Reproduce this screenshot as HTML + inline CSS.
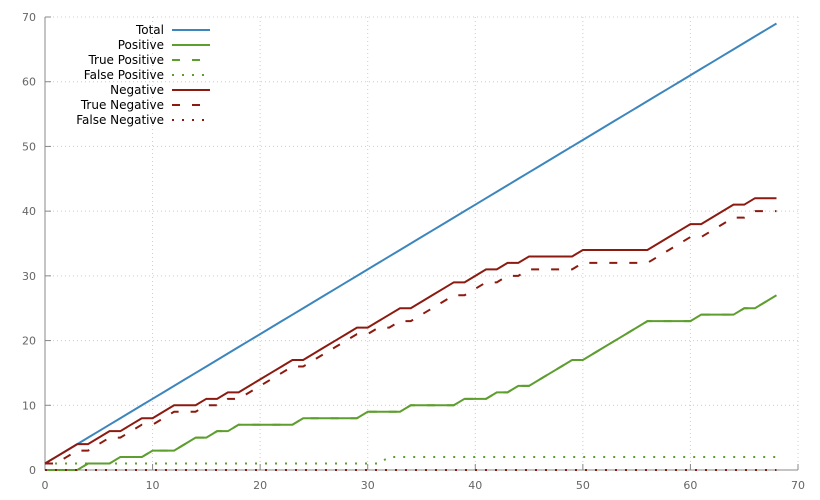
<!DOCTYPE html>
<html><head><meta charset="utf-8"><style>
body{margin:0;background:#fff;}
svg{display:block;font-family:"DejaVu Sans","Liberation Sans",sans-serif;}
</style></head><body>
<svg id="c" width="820" height="500"></svg>
<script>
const xTicks=[0,10,20,30,40,50,60,70];
const yTicks=[0,10,20,30,40,50,60,70];
const total=[1,2,3,4,5,6,7,8,9,10,11,12,13,14,15,16,17,18,19,20,21,22,23,24,25,26,27,28,29,30,31,32,33,34,35,36,37,38,39,40,41,42,43,44,45,46,47,48,49,50,51,52,53,54,55,56,57,58,59,60,61,62,63,64,65,66,67,68,69];
const positive=[0,0,0,0,1,1,1,2,2,2,3,3,3,4,5,5,6,6,7,7,7,7,7,7,8,8,8,8,8,8,9,9,9,9,10,10,10,10,10,11,11,11,12,12,13,13,14,15,16,17,17,18,19,20,21,22,23,23,23,23,23,24,24,24,24,25,25,26,27];
const truePositive=[0,0,0,0,1,1,1,2,2,2,3,3,3,4,5,5,6,6,7,7,7,7,7,7,8,8,8,8,8,8,9,9,9,9,10,10,10,10,10,11,11,11,12,12,13,13,14,15,16,17,17,18,19,20,21,22,23,23,23,23,23,24,24,24,24,25,25,26,27];
const falsePositive=[1,1,1,1,1,1,1,1,1,1,1,1,1,1,1,1,1,1,1,1,1,1,1,1,1,1,1,1,1,1,1,1,2,2,2,2,2,2,2,2,2,2,2,2,2,2,2,2,2,2,2,2,2,2,2,2,2,2,2,2,2,2,2,2,2,2,2,2,2];
const negative=[1,2,3,4,4,5,6,6,7,8,8,9,10,10,10,11,11,12,12,13,14,15,16,17,17,18,19,20,21,22,22,23,24,25,25,26,27,28,29,29,30,31,31,32,32,33,33,33,33,33,34,34,34,34,34,34,34,35,36,37,38,38,39,40,41,41,42,42,42];
const trueNegative=[1,1,2,3,3,4,5,5,6,7,7,8,9,9,9,10,10,11,11,12,13,14,15,16,16,17,18,19,20,21,21,22,22,23,23,24,25,26,27,27,28,29,29,30,30,31,31,31,31,31,32,32,32,32,32,32,32,33,34,35,36,36,37,38,39,39,40,40,40];
const falseNegative=[0,0,0,0,0,0,0,0,0,0,0,0,0,0,0,0,0,0,0,0,0,0,0,0,0,0,0,0,0,0,0,0,0,0,0,0,0,0,0,0,0,0,0,0,0,0,0,0,0,0,0,0,0,0,0,0,0,0,0,0,0,0,0,0,0,0,0,0,0];
const NS='http://www.w3.org/2000/svg';
const svg=document.getElementById('c');
const X0=45,X1=798,Y0=470,Y1=17;
const sx=v=>X0+(X1-X0)*v/70, sy=v=>Y0-(Y0-Y1)*v/70;
function mk(t,a){const e=document.createElementNS(NS,t);for(const k in a)e.setAttribute(k,a[k]);svg.appendChild(e);return e;}
xTicks.forEach(v=>{
 if(v>0){const g=mk('line',{x1:sx(v),x2:sx(v),y1:Y0,y2:Y1,stroke:'#ccc','stroke-dasharray':'1,3'});
 
 }
 const tk=mk('line',{x1:sx(v),x2:sx(v),y1:Y0,y2:Y0-6,stroke:'#888'});
 
 
 const t=mk('text',{x:sx(v),y:Y0+19,'text-anchor':'middle','font-size':11,fill:'#666'});t.textContent=v;
 
 
});
yTicks.forEach(v=>{
 if(v>0){const g=mk('line',{x1:X0,x2:X1,y1:sy(v),y2:sy(v),stroke:'#ccc','stroke-dasharray':'1,3'});
 
 }
 const tk=mk('line',{x1:X0,x2:X0+6,y1:sy(v),y2:sy(v),stroke:'#888'});
 
 
 const t=mk('text',{x:X0-9,y:sy(v)+4,'text-anchor':'end','font-size':11,fill:'#666'});t.textContent=v;
 
 
});
const ax=mk('path',{d:`M${X0},${Y1}V${Y0}H${X1}`,fill:'none',stroke:'#888'});


const series=[
 ['Total',total,'#3d86bd',''],
 ['Positive',positive,'#5e9e2f',''],
 ['True Positive',truePositive,'#5e9e2f','8,12'],
 ['False Positive',falsePositive,'#5e9e2f','2,8'],
 ['Negative',negative,'#8c1a10',''],
 ['True Negative',trueNegative,'#8c1a10','8,12'],
 ['False Negative',falseNegative,'#8c1a10','2,8']];
series.forEach((s,i)=>{
 const d=s[1].map((v,j)=>(j?'L':'M')+sx(j)+','+sy(v)).join('');
 const p=mk('path',{d:d,fill:'none',stroke:s[2],'stroke-width':2,'stroke-dasharray':s[3]});
 
 
 const ly=30+i*15;
 const t=mk('text',{x:164,y:ly+4,'text-anchor':'end','font-size':12,fill:'#000'});t.textContent=s[0];
 
 
 const l=mk('line',{x1:172,x2:210,y1:ly,y2:ly,stroke:s[2],'stroke-width':2,'stroke-dasharray':s[3]});
 
 
});
</script>
</body></html>
